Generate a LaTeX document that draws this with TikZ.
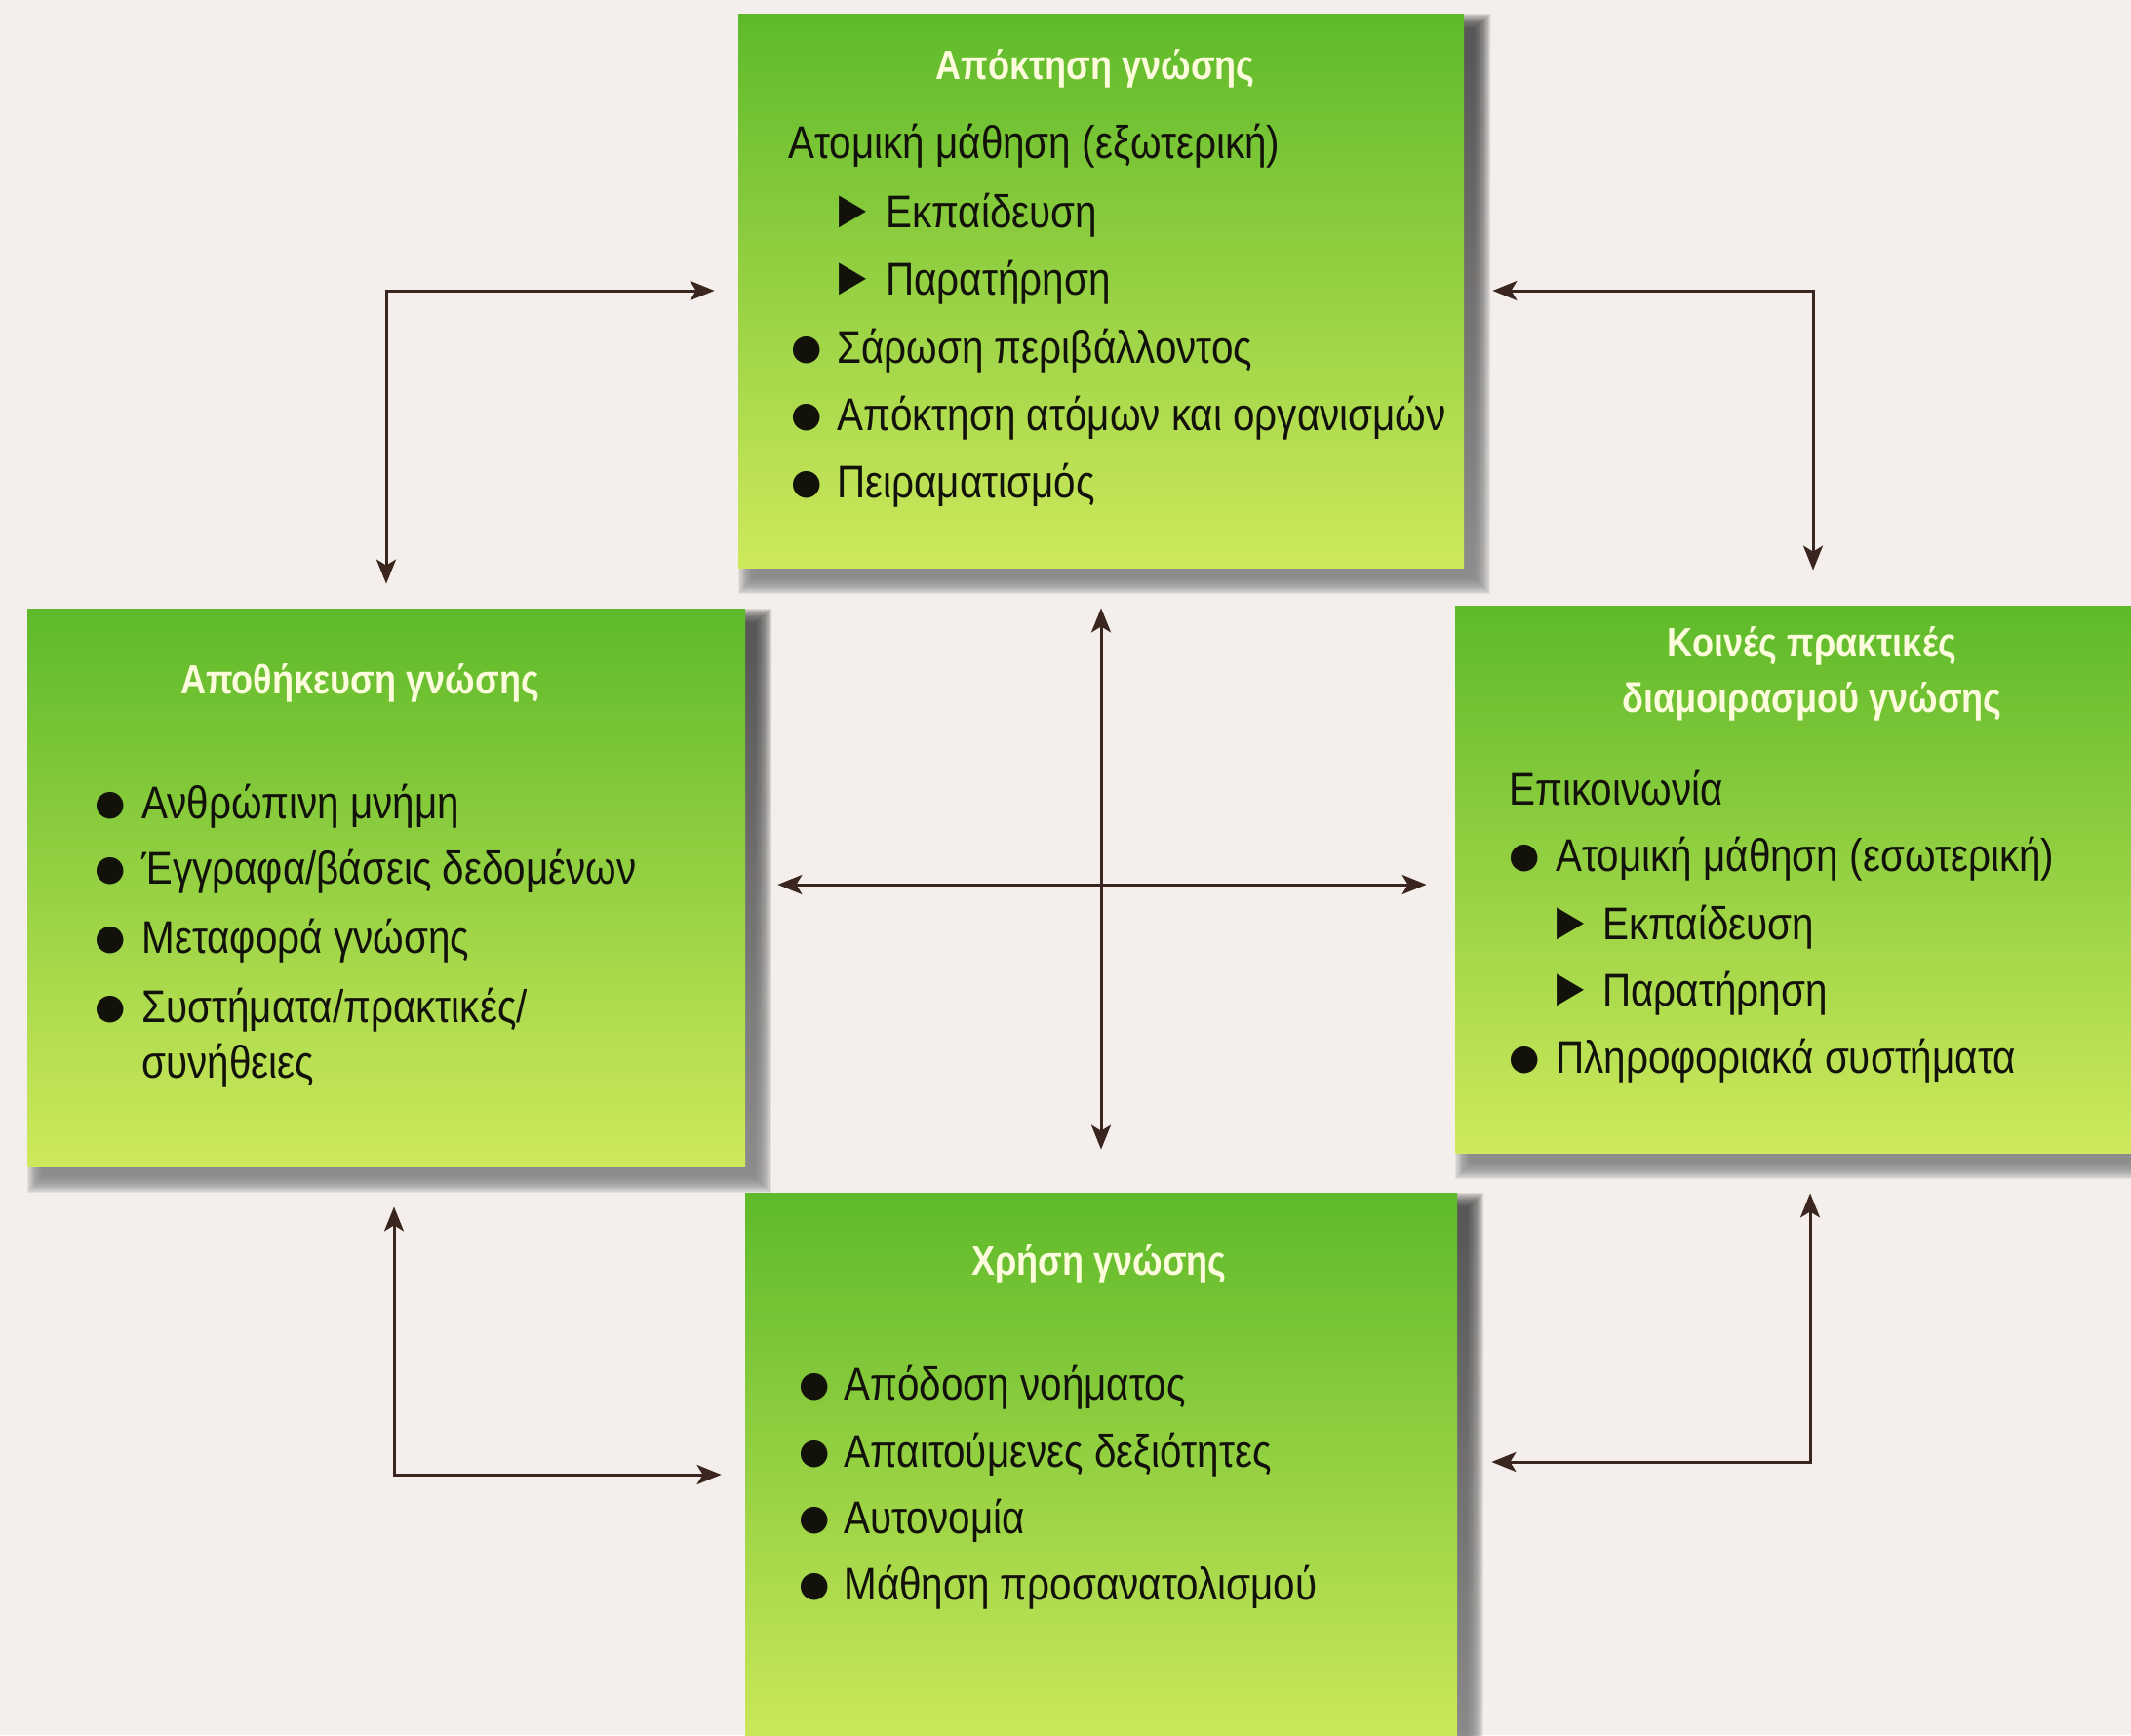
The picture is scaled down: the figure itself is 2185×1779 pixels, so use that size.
\documentclass[tikz,border=0pt]{standalone}
\usepackage{fontspec}
\usepackage{graphicx}
\setmainfont[FakeStretch=0.86]{Liberation Sans}
\newfontfamily\symf{DejaVu Sans}
\usetikzlibrary{arrows.meta,calc,backgrounds}

\definecolor{paper}{RGB}{244,239,236}
\definecolor{boxtop}{RGB}{94,186,42}
\definecolor{boxbot}{RGB}{206,233,92}
\definecolor{ink}{RGB}{18,18,10}
\definecolor{arrowc}{RGB}{58,38,30}
\definecolor{shade}{RGB}{88,68,48}
\definecolor{titlec}{RGB}{252,252,220}

% sub-item pointer glyph, slightly narrowed
\newcommand\ptr{\scalebox{0.85}[1]{\fontsize{21.5}{21.5}\symf ▶}}

\pgfdeclarelayer{shadowlayer}
\pgfsetlayers{background,shadowlayer,main}

% soft shadow to the lower right of a box
\newcommand\softshadow[1]{%
  \foreach \k in {0,...,13}{%
    \fill[shade,opacity=0.065]
      ($(#1.north west)+(16-\k*1.2,16-\k*1.2)$) rectangle
      ($(#1.south east)+(10+\k*1.3,10+\k*1.3)$);
  }%
}

\tikzset{
  box/.style={rectangle, inner sep=0pt, draw=none,
    top color=boxtop, bottom color=boxbot},
  title/.style={font=\fontsize{21}{28.5}\selectfont\bfseries, text=titlec,
    align=center, inner sep=0pt},
  item/.style={font=\fontsize{23.5}{27}\selectfont, text=ink,
    anchor=base west, inner sep=0pt},
  dot/.style={font=\fontsize{18}{18}\symf, text=ink, inner sep=0pt, anchor=center},
  pointer/.style={text=ink, inner sep=0pt, anchor=center},
  link/.style={draw=arrowc, line width=1.5pt,
    {Stealth[length=12.5pt,width=10pt,inset=3pt]}-{Stealth[length=12.5pt,width=10pt,inset=3pt]}}
}

\begin{document}
\begin{tikzpicture}[x=0.5pt,y=-0.5pt]
\useasboundingbox (0,0) rectangle (2185,1779);
\begin{scope}[on background layer]
  \fill[paper] (0,0) rectangle (2185,1779);
\end{scope}

% the four boxes
\node[box, minimum width=372pt, minimum height=284pt] (top) at (1129,298) {};
\node[box, minimum width=368pt, minimum height=286pt] (left) at (396,910) {};
\node[box, minimum width=354pt, minimum height=280.5pt] (right) at (1846,901.5) {};
\node[box, minimum width=365pt, minimum height=288.5pt] (bottom) at (1129,1511.5) {};

\begin{pgfonlayer}{shadowlayer}
  \softshadow{top}
  \softshadow{left}
  \softshadow{right}
  \softshadow{bottom}
\end{pgfonlayer}

% acquisition
\node[title] (t1) at (1123,70) {Απόκτηση γνώσης};
\node[item] (a1) at (808,162) {Ατομική μάθηση (εξωτερική)};
\node[pointer] (a2m) at (875,217) {\ptr};
\node[item] (a2) at (908,233) {Εκπαίδευση};
\node[pointer] (a3m) at (875,286) {\ptr};
\node[item] (a3) at (908,302) {Παρατήρηση};
\node[dot] (a4m) at (827,359) {●};
\node[item] (a4) at (858,372) {Σάρωση περιβάλλοντος};
\node[dot] (a5m) at (827,428) {●};
\node[item] (a5) at (858,441) {Απόκτηση ατόμων και οργανισμών};
\node[dot] (a6m) at (827,497) {●};
\node[item] (a6) at (858,510) {Πειραματισμός};

% storage
\node[title] (t2) at (369,700) {Αποθήκευση γνώσης};
\node[dot] (s1m) at (113,826) {●};
\node[item] (s1) at (145,839) {Ανθρώπινη μνήμη};
\node[dot] (s2m) at (113,893) {●};
\node[item] (s2) at (145,906) {Έγγραφα/βάσεις δεδομένων};
\node[dot] (s3m) at (113,964) {●};
\node[item] (s3) at (145,977) {Μεταφορά γνώσης};
\node[dot] (s4m) at (113,1035) {●};
\node[item] (s4) at (145,1048) {Συστήματα/πρακτικές/};
\node[item] (s5) at (145,1105) {συνήθειες};

% sharing
\node[title] (t3) at (1858,691) {Κοινές πρακτικές\\διαμοιρασμού γνώσης};
\node[item] (c1) at (1547,825) {Επικοινωνία};
\node[dot] (c2m) at (1563,880) {●};
\node[item] (c2) at (1595,893) {Ατομική μάθηση (εσωτερική)};
\node[pointer] (c3m) at (1611,947) {\ptr};
\node[item] (c3) at (1643,963) {Εκπαίδευση};
\node[pointer] (c4m) at (1611,1015) {\ptr};
\node[item] (c4) at (1643,1031) {Παρατήρηση};
\node[dot] (c5m) at (1563,1087) {●};
\node[item] (c5) at (1595,1100) {Πληροφοριακά συστήματα};

% use
\node[title] (t4) at (1127,1296) {Χρήση γνώσης};
\node[dot] (u1m) at (835,1422) {●};
\node[item] (u1) at (865,1435) {Απόδοση νοήματος};
\node[dot] (u2m) at (835,1491) {●};
\node[item] (u2) at (865,1504) {Απαιτούμενες δεξιότητες};
\node[dot] (u3m) at (835,1559) {●};
\node[item] (u3) at (865,1572) {Αυτονομία};
\node[dot] (u4m) at (835,1627) {●};
\node[item] (u4) at (865,1640) {Μάθηση προσανατολισμού};

% connectors between the boxes
\draw[link, shorten <=12.5pt, shorten >=12pt] (left.north) |- (top.west);
\draw[link, shorten <=14.5pt, shorten >=18pt] (top.east) -| ($(right.north)+(13,0)$);
\draw[link, shorten <=20.5pt, shorten >=12pt] ($(left.south)+(8,0)$) |- ($(bottom.west)+(0,0.5)$);
\draw[link, shorten <=20.5pt, shorten >=17.5pt] ($(right.south)+(10,0)$) |- ($(bottom.east)+(0,-12.5)$);
\draw[link, shorten <=20.5pt, shorten >=22pt] (top.south) -- (bottom.north);
\draw[link, shorten <=16.5pt, shorten >=14.5pt] ($(left.east)+(0,-3)$) -- ($(left.east -| right.west)+(0,-3)$);
\end{tikzpicture}
\end{document}
